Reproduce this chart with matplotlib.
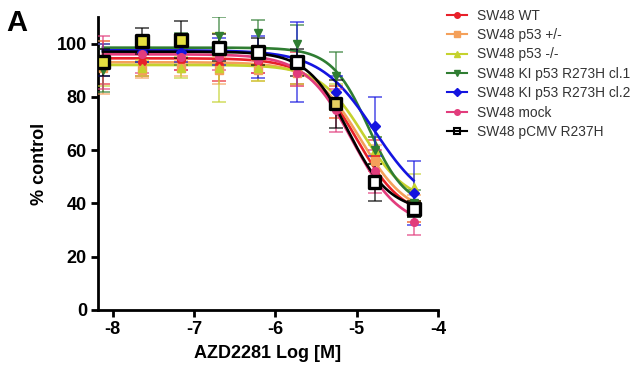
import numpy as np
import matplotlib
matplotlib.use("Agg")
import matplotlib.pyplot as plt
from matplotlib.lines import Line2D

plt.rcParams['font.family'] = ['Liberation Sans', 'DejaVu Sans']

log_conc = [-8.12, -7.64, -7.16, -6.69, -6.21, -5.73, -5.26, -4.78, -4.30]

labels = ["SW48 WT", "SW48 p53 +/-", "SW48 p53 -/-", "SW48 KI p53 R273H cl.1",
          "SW48 KI p53 R273H cl.2", "SW48 mock", "SW48 pCMV R237H"]

wt_vals = [93, 93, 94, 92, 93, 91, 78, 58, 37]
wt_err = [8, 5, 4, 6, 4, 6, 6, 6, 4]
het_vals = [91, 90, 91, 90, 90, 89, 78, 56, 38]
het_err = [10, 3, 3, 5, 4, 5, 6, 6, 5]
ko_vals = [92, 91, 91, 91, 91, 90, 80, 60, 46]
ko_err = [8, 3, 4, 13, 5, 5, 5, 5, 5]
ki1_vals = [90, 98, 98, 103, 104, 100, 88, 60, 40]
ki1_err = [8, 5, 6, 7, 5, 7, 9, 5, 5]
ki2_vals = [94, 97, 97, 97, 95, 93, 82, 69, 44]
ki2_err = [6, 4, 4, 5, 8, 15, 6, 11, 12]
mock_vals = [93, 96, 95, 95, 94, 89, 75, 52, 33]
mock_err = [10, 7, 5, 5, 5, 5, 8, 8, 5]
pcmv_vals = [93, 101, 101.5, 98.5, 97, 93, 77.5, 48, 38]
pcmv_err = [5, 5, 7, 5, 5, 5, 9, 7, 3]

# fitted 4PL parameters: top, bottom, logEC50, hill
fit_top = [94.5, 93, 92, 98.5, 97.5, 96, 97]
fit_bottom = [34, 35, 40, 38, 37, 31, 37]
fit_logec50 = [-5.0, -4.95, -4.92, -4.85, -4.78, -5.05, -5.1]
fit_hill = [1.5, 1.5, 1.6, 1.9, 1.3, 1.5, 1.7]

values = [wt_vals, het_vals, ko_vals, ki1_vals, ki2_vals, mock_vals, pcmv_vals]
errors = [wt_err, het_err, ko_err, ki1_err, ki2_err, mock_err, pcmv_err]

colors = ['#e8202a', '#f4a05a', '#c5d22e', '#2f7d32', '#1414e0', '#e23c7c', '#000000']
face = ['#e8202a', '#f4a05a', '#c5d22e', '#2f7d32', '#1414e0', '#e23c7c', 'none']
markers = ['o', 's', '^', 'v', 'D', 'o', 's']
msizes = [5.5, 5.5, 6, 6, 5.5, 5.5, 8.5]
pcmv_face = ['#e6e040', '#e6e040', '#e6e040', '#ffffff', '#ffffff',
             '#ffffff', '#e6d060', '#ffffff', '#ffffff']

fig = plt.figure(figsize=(6.36, 3.72), dpi=100)
ax = fig.add_axes([98/636, 1-310/372, (438-98)/636, (310-17)/372])

xf = np.linspace(log_conc[0], log_conc[-1], 300)
for i in range(len(labels)):
    c = colors[i]
    ax.errorbar(log_conc, values[i], yerr=errors[i], fmt='none', ecolor=c,
                elinewidth=1.3, capsize=5, capthick=1.3, alpha=0.65, zorder=2+i)
    yf = fit_bottom[i] + (fit_top[i]-fit_bottom[i])/(1+10**((xf-fit_logec50[i])*fit_hill[i]))
    ax.plot(xf, yf, color=c, lw=1.9, zorder=3+i)
    if i < 6:
        ax.plot(log_conc, values[i], linestyle='none', marker=markers[i], ms=msizes[i],
                mfc=face[i], mec=c, mew=1, zorder=10+i)
    else:
        ax.scatter(log_conc, values[i], marker='s', s=msizes[i]**2, c=pcmv_face,
                   edgecolors=c, linewidths=2.4, zorder=10+i)

ax.set_xlim(-8.18, -4)
ax.set_ylim(0, 110)
ax.set_xticks([-8, -7, -6, -5, -4])
ax.set_xticklabels(['-8', '-7', '-6', '-5', '-4'])
ax.set_yticks([0, 20, 40, 60, 80, 100])
for s in ['top', 'right']:
    ax.spines[s].set_visible(False)
for s in ['left', 'bottom']:
    ax.spines[s].set_linewidth(2)
ax.tick_params(width=2, length=5, labelsize=13, pad=3)
for t in ax.get_xticklabels() + ax.get_yticklabels():
    t.set_fontweight('bold')
ax.set_xlabel('AZD2281 Log [M]', fontsize=13, fontweight='bold', labelpad=5)
ax.set_ylabel('% control', fontsize=13, fontweight='bold', labelpad=6)

fig.text(6/636, 1-31/372, 'A', fontsize=21, fontweight='heavy')

handles = []
for i in range(len(labels)):
    handles.append(Line2D([0], [0], color=colors[i], lw=1.5, marker=markers[i],
                          ms=4 if i < 6 else 5, mfc=face[i], mec=colors[i],
                          mew=1 if i < 6 else 1.5))
leg = fig.legend(handles, labels, loc='upper left', bbox_to_anchor=(441.5/636, 1-3/372),
                 frameon=False, fontsize=9.9, labelspacing=0.395, handlelength=1.45,
                 handletextpad=0.73, borderaxespad=0)
for t in leg.get_texts():
    t.set_color('#333333')

fig.savefig('out.png', dpi=100)
